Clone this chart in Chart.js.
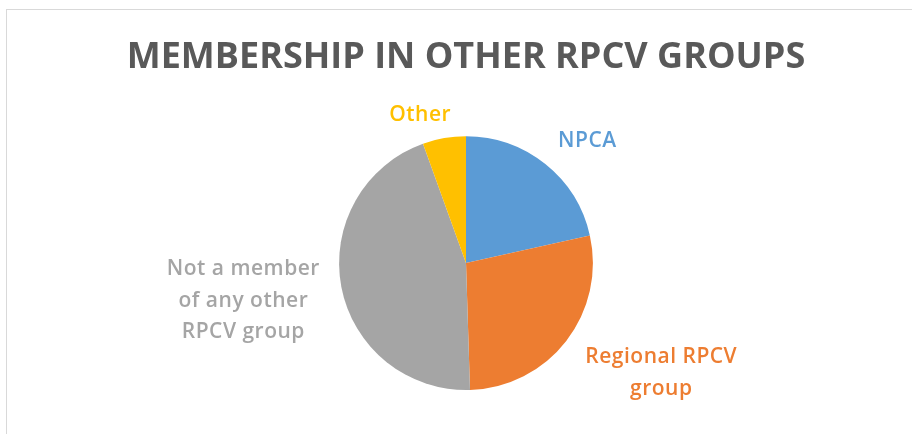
<!DOCTYPE html>
<html>
<head>
<meta charset="utf-8">
<script src="https://cdn.jsdelivr.net/npm/chart.js@4/dist/chart.umd.min.js"></script>
<style>
  body { margin: 0; background: #fff; }
  #wrap { position: relative; width: 912px; height: 434px; overflow: hidden; }
  #frame { position: absolute; left: 6px; top: 9px; right: -2px; bottom: -2px;
           border-top: 1px solid #d9d9d9; border-left: 1px solid #d9d9d9; }
  #chart { position: absolute; left: 0; top: 0; }
</style>
</head>
<body>
<div id="wrap">
  <div id="frame"></div>
  <canvas id="chart" width="912" height="434"></canvas>
</div>
<script>
const labels = [
  'NPCA',
  ['Regional RPCV', 'group'],
  ['Not a member', 'of any other', 'RPCV group'],
  'Other'
];
const shares = [21.5, 28, 45, 5.5];
const colors = ['#5B9BD5', '#ED7D31', '#A5A5A5', '#FFC000'];

// category labels drawn outside the slices, nudged from the slice's outer mid point
const outsideLabels = {
  id: 'outsideLabels',
  afterDatasetsDraw(chart, args, opts) {
    const ctx = chart.ctx;
    const meta = chart.getDatasetMeta(0);
    ctx.save();
    ctx.font = opts.font;
    ctx.letterSpacing = opts.letterSpacing;
    ctx.textAlign = 'center';
    ctx.textBaseline = 'middle';
    meta.data.forEach((arc, i) => {
      const p = arc.getProps(['x', 'y', 'startAngle', 'endAngle', 'outerRadius'], true);
      const mid = (p.startAngle + p.endAngle) / 2;
      const nudge = opts.nudge[i];
      const cx = p.x + Math.cos(mid) * p.outerRadius + nudge[0];
      const cy = p.y + Math.sin(mid) * p.outerRadius + nudge[1];
      const lines = [].concat(chart.data.labels[i]);
      const top = cy - (lines.length - 1) * opts.lineHeight / 2;
      ctx.fillStyle = colors[i];
      lines.forEach((t, k) => ctx.fillText(t, cx, top + k * opts.lineHeight));
    });
    ctx.restore();
  }
};

new Chart(document.getElementById('chart'), {
  type: 'pie',
  data: {
    labels: labels,
    datasets: [{
      data: shares,
      backgroundColor: colors,
      borderWidth: 0,
      hoverOffset: 0
    }]
  },
  options: {
    responsive: false,
    animation: false,
    layout: { padding: { left: 20, right: 0, top: 0, bottom: 44 } },
    plugins: {
      legend: { display: false },
      tooltip: { enabled: false },
      title: {
        display: true,
        text: 'MEMBERSHIP IN OTHER RPCV GROUPS',
        color: '#595959',
        font: { family: '"Open Sans"', size: 36, weight: 'bold', lineHeight: 1.2 },
        padding: { top: 36, bottom: 57 }
      },
      outsideLabels: {
        font: '600 21px "Open Sans"',
        letterSpacing: '0.5px',
        lineHeight: 31.5,
        nudge: [[42, -23], [95, 32], [-98, 14], [-24, -23]]
      }
    }
  },
  plugins: [outsideLabels]
});
</script>
</body>
</html>
